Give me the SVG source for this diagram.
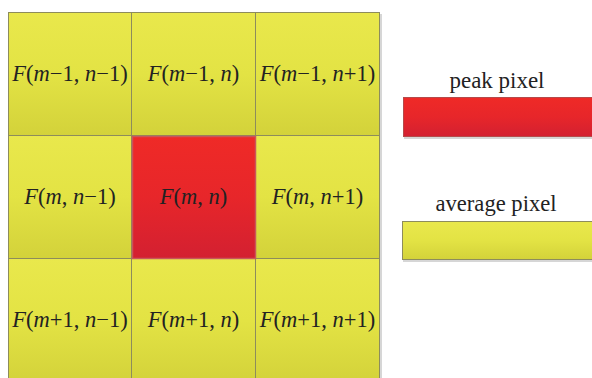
<svg xmlns="http://www.w3.org/2000/svg" width="592" height="378" viewBox="0 0 592 378">
<defs>
<linearGradient id="gy" x1="0" y1="0" x2="0" y2="1">
<stop offset="0" stop-color="#e9e84c"/>
<stop offset="0.5" stop-color="#e3e344"/>
<stop offset="1" stop-color="#d3d23a"/>
</linearGradient>
<linearGradient id="gr" x1="0" y1="0" x2="0" y2="1">
<stop offset="0" stop-color="#ef2a27"/>
<stop offset="0.5" stop-color="#e7262a"/>
<stop offset="1" stop-color="#d32031"/>
</linearGradient>
</defs>
<style>
.y{fill:url(#gy);stroke:#8d8c5c;stroke-width:1}
.r{fill:url(#gr);stroke:#c9565a;stroke-width:1.5}
.sh{fill:#d6d6d6}
.t{font-family:"Liberation Serif","Times New Roman",serif;font-size:22.5px;fill:#222;text-anchor:middle}
.i{font-style:italic}
.l{font-family:"Liberation Serif","Times New Roman",serif;font-size:22.5px;fill:#222;text-anchor:middle}
</style>
<rect width="592" height="378" fill="#ffffff"/>
<rect class="sh" x="380" y="14" width="2" height="366"/>
<g id="c00"><rect class="y" x="8.5" y="12.5" width="123" height="123"/><text class="t" x="70" y="81"><tspan class="i">F</tspan>(<tspan class="i">m</tspan>−1, <tspan class="i">n</tspan>−1)</text></g>
<g id="c01"><rect class="y" x="131.5" y="12.5" width="124" height="123"/><text class="t" x="193.5" y="81"><tspan class="i">F</tspan>(<tspan class="i">m</tspan>−1, <tspan class="i">n</tspan>)</text></g>
<g id="c02"><rect class="y" x="255.5" y="12.5" width="124" height="123"/><text class="t" x="317.5" y="81"><tspan class="i">F</tspan>(<tspan class="i">m</tspan>−1, <tspan class="i">n</tspan>+1)</text></g>
<g id="c10"><rect class="y" x="8.5" y="135.5" width="123" height="123"/><text class="t" x="70" y="204"><tspan class="i">F</tspan>(<tspan class="i">m</tspan>, <tspan class="i">n</tspan>−1)</text></g>
<g id="c12"><rect class="y" x="255.5" y="135.5" width="124" height="123"/><text class="t" x="317.5" y="204"><tspan class="i">F</tspan>(<tspan class="i">m</tspan>, <tspan class="i">n</tspan>+1)</text></g>
<g id="c20"><rect class="y" x="8.5" y="258.5" width="123" height="124"/><text class="t" x="70" y="327"><tspan class="i">F</tspan>(<tspan class="i">m</tspan>+1, <tspan class="i">n</tspan>−1)</text></g>
<g id="c21"><rect class="y" x="131.5" y="258.5" width="124" height="124"/><text class="t" x="193.5" y="327"><tspan class="i">F</tspan>(<tspan class="i">m</tspan>+1, <tspan class="i">n</tspan>)</text></g>
<g id="c22"><rect class="y" x="255.5" y="258.5" width="124" height="124"/><text class="t" x="317.5" y="327"><tspan class="i">F</tspan>(<tspan class="i">m</tspan>+1, <tspan class="i">n</tspan>+1)</text></g>
<g id="c11"><rect class="r" x="132.5" y="136.5" width="123" height="122"/><text class="t" x="193.5" y="204"><tspan class="i">F</tspan>(<tspan class="i">m</tspan>, <tspan class="i">n</tspan>)</text></g>
<g id="legend-peak">
<text class="l" x="497" y="88" textLength="95" lengthAdjust="spacingAndGlyphs">peak pixel</text>
<rect class="sh" x="404" y="99" width="188" height="40"/>
<rect x="403.5" y="97.5" width="189" height="39" fill="url(#gr)" stroke="#b54a4a" stroke-width="1"/>
</g>
<g id="legend-average">
<text class="l" x="496" y="211" textLength="121" lengthAdjust="spacingAndGlyphs">average pixel</text>
<rect class="sh" x="403" y="223" width="189" height="39"/>
<rect x="402.5" y="221.5" width="190" height="38" fill="url(#gy)" stroke="#8d8c5c" stroke-width="1"/>
</g>
</svg>
